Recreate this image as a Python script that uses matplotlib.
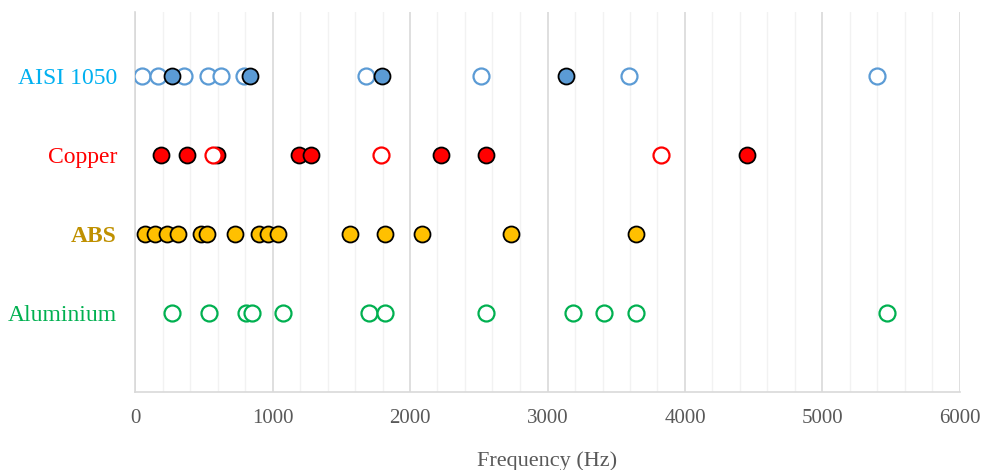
import matplotlib
matplotlib.use("Agg")
import matplotlib.pyplot as plt
from matplotlib.ticker import MultipleLocator

plt.rcParams['font.family'] = ['Liberation Serif', 'DejaVu Serif']

materials = ["AISI 1050", "Copper", "ABS", "Aluminium"]
label_colors = ["#00B0F0", "#FF0000", "#BF9000", "#00B050"]
row_pos = [4, 3, 2, 1]

aisi_open = [53, 169, 359, 529, 623, 795, 1680, 2519, 3593, 5396]
aisi_filled = [267, 836, 1796, 3135]
copper_filled = [189, 376, 599, 1195, 1278, 2225, 2551, 4451]
copper_open = [569, 1787, 3823]
abs_filled = [73, 145, 235, 311, 478, 521, 729, 904, 969, 1042, 1564, 1820, 2085, 2732, 3641]
alu_open = [271, 540, 804, 853, 1079, 1704, 1820, 2556, 3182, 3408, 3641, 5468]

fig = plt.figure(figsize=(9.85, 4.7), dpi=100)
ax = fig.add_axes([135/985, 1-392/470, 825/985, 380/470])

ms = 11.5
def open_pts(vals, y, c, z):
    ax.plot(vals, [y]*len(vals), linestyle='none', marker='o', ms=ms,
            mfc='white', mec=c, mew=1.6, zorder=z)
def filled_pts(vals, y, c, z):
    ax.plot(vals, [y]*len(vals), linestyle='none', marker='o', ms=ms,
            mfc=c, mec='black', mew=1.3, zorder=z)

open_pts(aisi_open, row_pos[0], "#5B9BD5", 3)
filled_pts(aisi_filled, row_pos[0], "#5B9BD5", 4)
filled_pts(copper_filled, row_pos[1], "#FF0000", 3)
open_pts(copper_open, row_pos[1], "#FF0000", 4)
filled_pts(abs_filled, row_pos[2], "#FFC000", 3)
open_pts(alu_open, row_pos[3], "#00B050", 3)

ax.set_xlim(0, 6000)
ax.set_ylim(0, 4.81)
ax.xaxis.set_major_locator(MultipleLocator(1000))
ax.xaxis.set_minor_locator(MultipleLocator(200))
ax.grid(which='major', axis='x', color='#D9D9D9', lw=1.2, zorder=0)
ax.grid(which='minor', axis='x', color='#F2F2F2', lw=1.0, zorder=0)
ax.set_axisbelow(True)
for s in ['top', 'right']:
    ax.spines[s].set_visible(False)
ax.spines['left'].set_color('#D9D9D9')
ax.spines['bottom'].set_color('#D9D9D9')
ax.spines['left'].set_linewidth(1.2)
ax.spines['bottom'].set_linewidth(1.2)
ax.tick_params(axis='x', which='both', length=0, pad=12, labelsize=15, labelcolor='#595959')
ax.set_yticks(row_pos)
ax.set_yticklabels(materials)
ax.tick_params(axis='y', length=0, pad=13, labelsize=17)
for t, c in zip(ax.get_yticklabels(), label_colors):
    t.set_color(c)
    if t.get_text() == "ABS":
        t.set_fontweight('bold')
ax.set_xlabel("Frequency (Hz)", fontsize=16, color='#595959', labelpad=17)

fig.savefig("out.png", dpi=100)
